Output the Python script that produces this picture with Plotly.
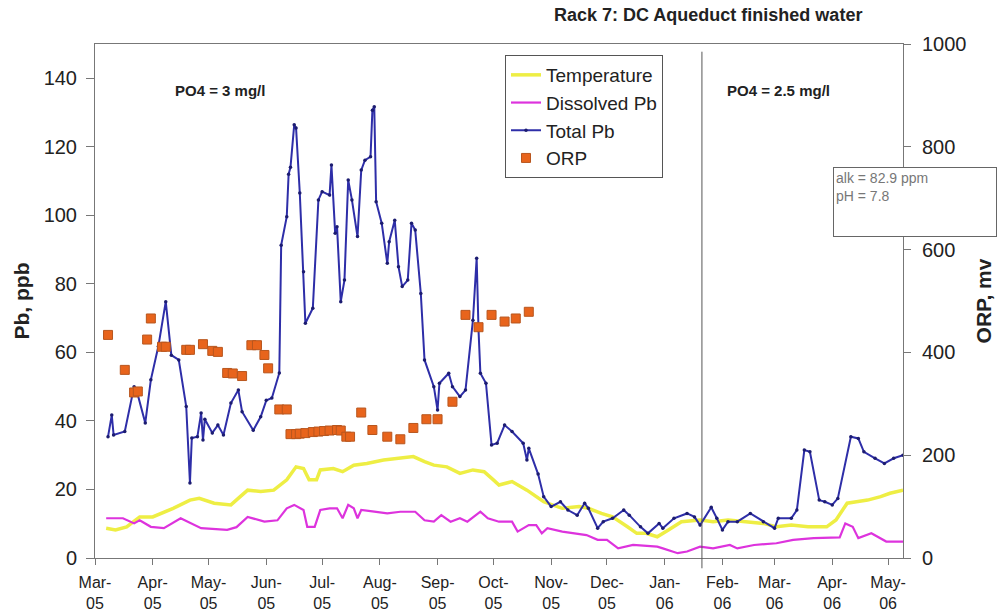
import plotly.graph_objects as go

# ---------------- data ----------------
tpb_dates = ["2005-03-08","2005-03-10","2005-03-11","2005-03-17","2005-03-22","2005-03-24","2005-03-28","2005-03-31","2005-04-04","2005-04-08",
             "2005-04-11","2005-04-15","2005-04-19","2005-04-21","2005-04-22","2005-04-25","2005-04-27","2005-04-28","2005-04-29","2005-05-03",
             "2005-05-06","2005-05-09","2005-05-13","2005-05-17","2005-05-19","2005-05-25","2005-05-29","2005-06-01","2005-06-04","2005-06-08",
             "2005-06-09","2005-06-12","2005-06-13","2005-06-14","2005-06-16","2005-06-17","2005-06-19","2005-06-21","2005-06-22","2005-06-26",
             "2005-06-29","2005-07-01","2005-07-05","2005-07-06","2005-07-08","2005-07-09","2005-07-11","2005-07-13","2005-07-15","2005-07-17",
             "2005-07-20","2005-07-22","2005-07-24","2005-07-27","2005-07-28","2005-07-29","2005-07-30","2005-08-02","2005-08-05","2005-08-06",
             "2005-08-09","2005-08-11","2005-08-13","2005-08-16","2005-08-18","2005-08-20","2005-08-23","2005-08-25","2005-08-30","2005-09-01",
             "2005-09-02","2005-09-07","2005-09-09","2005-09-13","2005-09-16","2005-09-20","2005-09-22","2005-09-23","2005-09-24","2005-09-27",
             "2005-09-30","2005-10-03","2005-10-07","2005-10-11","2005-10-17","2005-10-19","2005-10-20","2005-10-25","2005-10-28","2005-11-01",
             "2005-11-06","2005-11-10","2005-11-15","2005-11-19","2005-11-21","2005-11-26","2005-11-29","2005-12-04","2005-12-10","2005-12-13",
             "2005-12-19","2005-12-23","2005-12-29","2005-12-31","2006-01-06","2006-01-13","2006-01-17","2006-01-20","2006-01-26","2006-01-29",
             "2006-02-01","2006-02-04","2006-02-09","2006-02-16","2006-02-23","2006-03-01","2006-03-03","2006-03-10","2006-03-13","2006-03-17",
             "2006-03-20","2006-03-25","2006-03-28","2006-04-01","2006-04-04","2006-04-11","2006-04-15","2006-04-18","2006-04-24","2006-04-29",
             "2006-05-04","2006-05-09"]
tpb_values = [35.4,41.7,35.9,36.9,50,47.6,39.4,52,61.7,74.8,
              59.2,57.8,44.2,21.9,35,35.4,42.3,34.4,40.5,36.5,
              38.8,35.9,45.2,49,42.7,37.3,41.2,46,46.7,54,
              91.3,99.6,112,114,126.4,125.5,106.5,83.5,68.5,72.9,
              104.5,106.9,105.9,114.7,94.8,96.7,74.8,81.1,110.3,104.5,
              93.8,113.2,116.1,117.1,130.7,131.7,104,97.7,86,92.3,
              98.6,85,79.2,81.1,97.7,95.7,77.2,57.8,50,43.2,
              51,53.9,50,47.1,49,69.4,87.5,66.5,53.9,51,
              33,33.5,38.8,36.9,33.5,28.6,32,24.5,17.9,15,
              16.4,14,12.5,16,14.5,8.7,10.6,11.6,14,12.5,
              9.1,7.2,10.1,8.7,11.6,13,12,9.6,14.8,11.6,
              8.2,10.6,10.6,13,10.6,8.7,11.6,11.6,14,31.5,
              31,16.9,16.4,15.5,17.4,35.4,34.9,31,29.1,27.6,
              29.1,30]

dpb_dates = ["2005-03-07","2005-03-16","2005-03-22","2005-03-25","2005-03-31","2005-04-07","2005-04-16","2005-04-27","2005-05-11","2005-05-16",
             "2005-05-22","2005-05-31","2005-06-07","2005-06-12","2005-06-16","2005-06-21","2005-06-23","2005-06-27","2005-06-30","2005-07-05",
             "2005-07-09","2005-07-12","2005-07-15","2005-07-18","2005-07-20","2005-07-22","2005-07-28","2005-08-05","2005-08-12","2005-08-20",
             "2005-08-25","2005-08-30","2005-09-03","2005-09-08","2005-09-13","2005-09-17","2005-09-24","2005-09-28","2005-10-04","2005-10-11",
             "2005-10-14","2005-10-20","2005-10-24","2005-10-27","2005-10-30","2005-11-07","2005-11-20","2005-11-26","2005-12-01","2005-12-07",
             "2005-12-15","2005-12-28","2005-12-31","2006-01-08","2006-01-13","2006-01-20","2006-01-27","2006-02-05","2006-02-09","2006-02-18",
             "2006-03-02","2006-03-11","2006-03-22","2006-04-05","2006-04-08","2006-04-12","2006-04-15","2006-04-22","2006-04-30","2006-05-09"]
dpb_values = [11.6,11.6,10.1,11,9.1,8.7,11.6,8.7,8.2,9,
              12,10.6,11,14.5,15.5,14,9.1,9.1,14,14.5,
              14.5,11.6,15.5,14.5,11.6,14,13.6,13,13.5,13.5,
              11,10.6,12.5,10.6,11.6,10.6,13.5,11.6,10.6,10.6,
              7.7,9.6,9.6,7.2,8.7,7.7,6.7,5.3,5.3,2.8,
              3.8,3.3,2.8,1.4,1.9,3.3,2.8,3.8,2.8,3.8,
              4.3,5.3,5.8,6,10.1,9.1,5.8,7.2,4.8,4.8]

temp_dates = ["2005-03-07","2005-03-12","2005-03-18","2005-03-25","2005-04-01","2005-04-12","2005-04-21","2005-04-26","2005-05-04","2005-05-13",
              "2005-05-18","2005-05-22","2005-05-29","2005-06-05","2005-06-12","2005-06-17","2005-06-21","2005-06-24","2005-06-28","2005-06-30",
              "2005-07-07","2005-07-12","2005-07-18","2005-07-25","2005-08-03","2005-08-12","2005-08-19","2005-08-25","2005-08-30","2005-09-06",
              "2005-09-13","2005-09-20","2005-09-26","2005-10-01","2005-10-04","2005-10-11","2005-10-19","2005-10-28","2005-11-07","2005-11-16",
              "2005-11-21","2005-11-28","2005-12-04","2005-12-12","2005-12-17","2005-12-22","2005-12-28","2006-01-03","2006-01-10","2006-01-20",
              "2006-01-27","2006-02-04","2006-02-14","2006-02-23","2006-03-02","2006-03-10","2006-03-19","2006-03-29","2006-04-03","2006-04-09",
              "2006-04-14","2006-04-20","2006-04-27","2006-05-02","2006-05-09"]
temp_values = [8.7,8.2,9.1,12,12,14.5,16.9,17.4,16,15.5,
               17.9,19.8,19.4,19.8,22.8,26.6,26.1,22.8,22.8,25.7,
               26.1,25.2,27.1,27.6,28.6,29.1,29.6,28.1,27.1,26.6,
               24.7,25.7,25.2,22.8,21.3,22.3,19.8,16.4,14.5,15,
               14.5,13,12,9.1,7.2,7.2,6.2,8.2,10.6,11.1,
               10.6,11.1,10.6,10.1,9.1,9.6,9.1,9.1,11.1,16,
               16.4,16.9,17.9,18.9,19.8]

orp_dates = ["2005-03-08","2005-03-17","2005-03-22","2005-03-24","2005-03-29","2005-03-31","2005-04-06","2005-04-08","2005-04-19","2005-04-21",
             "2005-04-28","2005-05-03","2005-05-06","2005-05-11","2005-05-14","2005-05-19","2005-05-24","2005-05-27","2005-05-31","2005-06-02",
             "2005-06-08","2005-06-12","2005-06-14","2005-06-17","2005-06-19","2005-06-22","2005-06-26","2005-06-29","2005-07-02","2005-07-05",
             "2005-07-09","2005-07-11","2005-07-14","2005-07-16","2005-07-22","2005-07-28","2005-08-05","2005-08-12","2005-08-19","2005-08-26",
             "2005-09-01","2005-09-09","2005-09-16","2005-09-23","2005-09-30","2005-10-07","2005-10-13","2005-10-20"]
orp_values = [434,366,322,324,425,466,411,411,405,405,
              416,403,401,360,359,354,414,414,395,369,
              289,289,241,241,242,243,245,246,247,248,
              249,248,236,236,283,249,236,231,253,270,
              270,304,473,449,473,460,466,479]

month_ticks = ["2005-03-01","2005-04-01","2005-05-01","2005-06-01","2005-07-01","2005-08-01","2005-09-01","2005-10-01",
               "2005-11-01","2005-12-01","2006-01-01","2006-02-01","2006-03-01","2006-04-01","2006-05-01"]
month_labels = ["Mar-<br>05","Apr-<br>05","May-<br>05","Jun-<br>05","Jul-<br>05","Aug-<br>05","Sep-<br>05","Oct-<br>05",
                "Nov-<br>05","Dec-<br>05","Jan-<br>06","Feb-<br>06","Mar-<br>06","Apr-<br>06","May-<br>06"]
x_range = ["2005-03-01", "2006-05-09"]
change_date = "2006-01-21"

FONT = "Arial, Liberation Sans, sans-serif"

fig = go.Figure()
fig.add_trace(go.Scatter(x=temp_dates, y=temp_values, name="Temperature", mode="lines",
                         line=dict(color="#eeee44", width=3.5)))
fig.add_trace(go.Scatter(x=dpb_dates, y=dpb_values, name="Dissolved Pb", mode="lines",
                         line=dict(color="#dd33dd", width=2.2)))
fig.add_trace(go.Scatter(x=tpb_dates, y=tpb_values, name="Total Pb", mode="lines+markers",
                         line=dict(color="#2e2ea8", width=2),
                         marker=dict(size=3.5, color="#1c1c70")))
fig.add_trace(go.Scatter(x=orp_dates, y=orp_values, name="ORP", mode="markers", yaxis="y2",
                         marker=dict(symbol="square", size=9, color="#e8641c",
                                     line=dict(color="#b8561e", width=1))))

fig.add_shape(type="line", xref="x", yref="paper", x0=change_date, x1=change_date, y0=-0.02, y1=0.985,
              line=dict(color="#555555", width=1))

fig.add_annotation(x="2005-05-07", y=136.3, xref="x", yref="y", text="<b>PO4 = 3 mg/l</b>",
                   showarrow=False, font=dict(family=FONT, size=15, color="#222"))
fig.add_annotation(x="2006-03-03", y=136.3, xref="x", yref="y", text="<b>PO4 = 2.5 mg/l</b>",
                   showarrow=False, font=dict(family=FONT, size=15, color="#222"))
fig.add_annotation(xref="paper", yref="paper", x=0.5, y=1.0, xanchor="center", yanchor="bottom",
                   text="<b>Rack 7: DC Aqueduct finished water</b>", showarrow=False,
                   xshift=209, yshift=17, font=dict(family=FONT, size=18, color="#222"))
fig.add_annotation(xref="paper", yref="paper", x=(833 - 95) / 808, y=(558 - 167) / 514,
                   xanchor="left", yanchor="top", text="alk = 82.9 ppm<br>pH = 7.8",
                   showarrow=False, align="left", valign="top", width=158, height=64,
                   bgcolor="white", bordercolor="#666", borderwidth=1, borderpad=2,
                   font=dict(family=FONT, size=14, color="#777"))

fig.update_layout(
    width=1000, height=615,
    margin=dict(l=95, r=97, t=44, b=57, autoexpand=False),
    paper_bgcolor="white", plot_bgcolor="white",
    font=dict(family=FONT, color="#222"),
    showlegend=True,
    legend=dict(x=(505 - 95) / 808, y=(558 - 55) / 514, xanchor="left", yanchor="top",
                bgcolor="white", bordercolor="#555", borderwidth=1,
                font=dict(family=FONT, size=19, color="#222"), tracegroupgap=0,
                itemwidth=30),
    xaxis=dict(type="date", range=x_range, tickvals=month_ticks, ticktext=month_labels,
               ticks="outside", ticklen=6, tickcolor="#777", showline=True, linecolor="#777",
               linewidth=1, mirror=True, showgrid=False, zeroline=False, automargin=False,
               ticklabelstandoff=4,
               tickfont=dict(family=FONT, size=16, color="#222")),
    yaxis=dict(range=[0, 150], tickvals=[0, 20, 40, 60, 80, 100, 120, 140], ticks="outside",
               ticklen=8, tickcolor="#777", showline=True, linecolor="#777", linewidth=1,
               showgrid=False, zeroline=False, ticklabelstandoff=5, automargin=False,
               tickfont=dict(family=FONT, size=20, color="#222"),
               title=dict(text="<b>Pb, ppb</b>", font=dict(family=FONT, size=21, color="#222"), standoff=8)),
    yaxis2=dict(range=[0, 1000], tickvals=[0, 200, 400, 600, 800, 1000], overlaying="y", side="right",
                ticks="outside", ticklen=7, tickcolor="#777", showline=True, linecolor="#777",
                linewidth=1, showgrid=False, zeroline=False, ticklabelstandoff=7, automargin=False,
                tickfont=dict(family=FONT, size=20, color="#222"),
                title=dict(text="<b>ORP, mv</b>", font=dict(family=FONT, size=21, color="#222"), standoff=10)),
)

fig.write_html("out.html", config={"displayModeBar": False},
               post_script="document.body.style.margin='0';")
